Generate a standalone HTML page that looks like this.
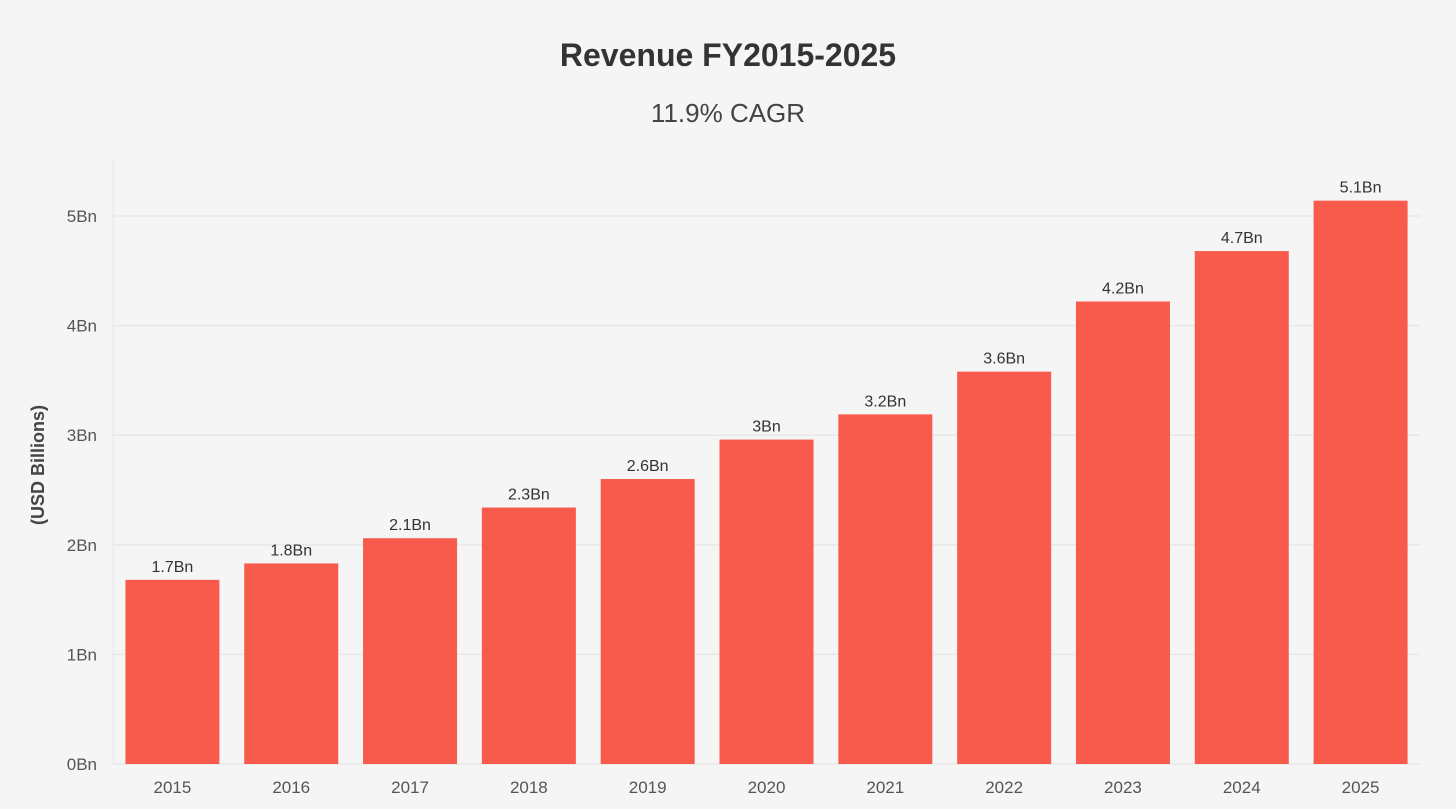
<!DOCTYPE html>
<html><head><meta charset="utf-8"><style>
html,body{margin:0;padding:0;background:#f5f5f5;}
svg{display:block;font-family:"Liberation Sans",sans-serif;}
</style></head><body>
<svg id="chart" width="1456" height="809">
<text x="728" y="66" text-anchor="middle" font-size="32" font-weight="bold" fill="#333">Revenue FY2015-2025</text>
<text x="728" y="122" text-anchor="middle" font-size="26" fill="#444">11.9% CAGR</text>
<text transform="translate(44,465) rotate(-90)" text-anchor="middle" font-size="18" font-weight="bold" fill="#444">(USD Billions)</text>
<g id="grid"></g><g id="bars"></g><g id="labels"></g>
</svg>
<script>
const categories=["2015","2016","2017","2018","2019","2020","2021","2022","2023","2024","2025"];
const revenue=[1.68,1.83,2.06,2.34,2.60,2.96,3.19,3.58,4.22,4.68,5.14];
const yTicks=[0,1,2,3,4,5];
const NS="http://www.w3.org/2000/svg";
const svg=document.getElementById('chart');
const left=113,right=1420,y0=764,pxPer=109.6;
const y=v=>y0-v*pxPer;
const step=(right-left)/categories.length;
const x=i=>left+step*i+step/2;
function mk(tag,attrs,parent,txt){const e=document.createElementNS(NS,tag);for(const k in attrs)e.setAttribute(k,attrs[k]);if(txt!==undefined)e.textContent=txt;parent.appendChild(e);return e;}
const grid=document.getElementById('grid'),bars=document.getElementById('bars'),labels=document.getElementById('labels');
const axis=mk('line',{x1:left,x2:left,y1:160,y2:y0,stroke:'#e6e6e6','stroke-width':1},grid);


yTicks.forEach(t=>{
  const l=mk('line',{x1:left,x2:right,y1:y(t),y2:y(t),stroke:'#e8e8e8','stroke-width':1.5},grid);
  
  
  const tx=mk('text',{x:97,y:y(t)+6,'text-anchor':'end','font-size':17,fill:'#555'},grid,t+'Bn');
  
  
});
const bw=94;
categories.forEach((c,i)=>{
  const v=revenue[i];
  const r=mk('rect',{x:x(i)-bw/2,y:y(v),width:bw,height:y0-y(v),fill:'#f85b4b'},bars);
  
  
  const lb=mk('text',{x:x(i),y:y(v)-8,'text-anchor':'middle','font-size':16,fill:'#333'},labels,parseFloat(v.toFixed(1))+'Bn');
  
  
  const xl=mk('text',{x:x(i),y:793,'text-anchor':'middle','font-size':17,fill:'#555'},labels,c);
  
  
});
</script>
</body></html>
